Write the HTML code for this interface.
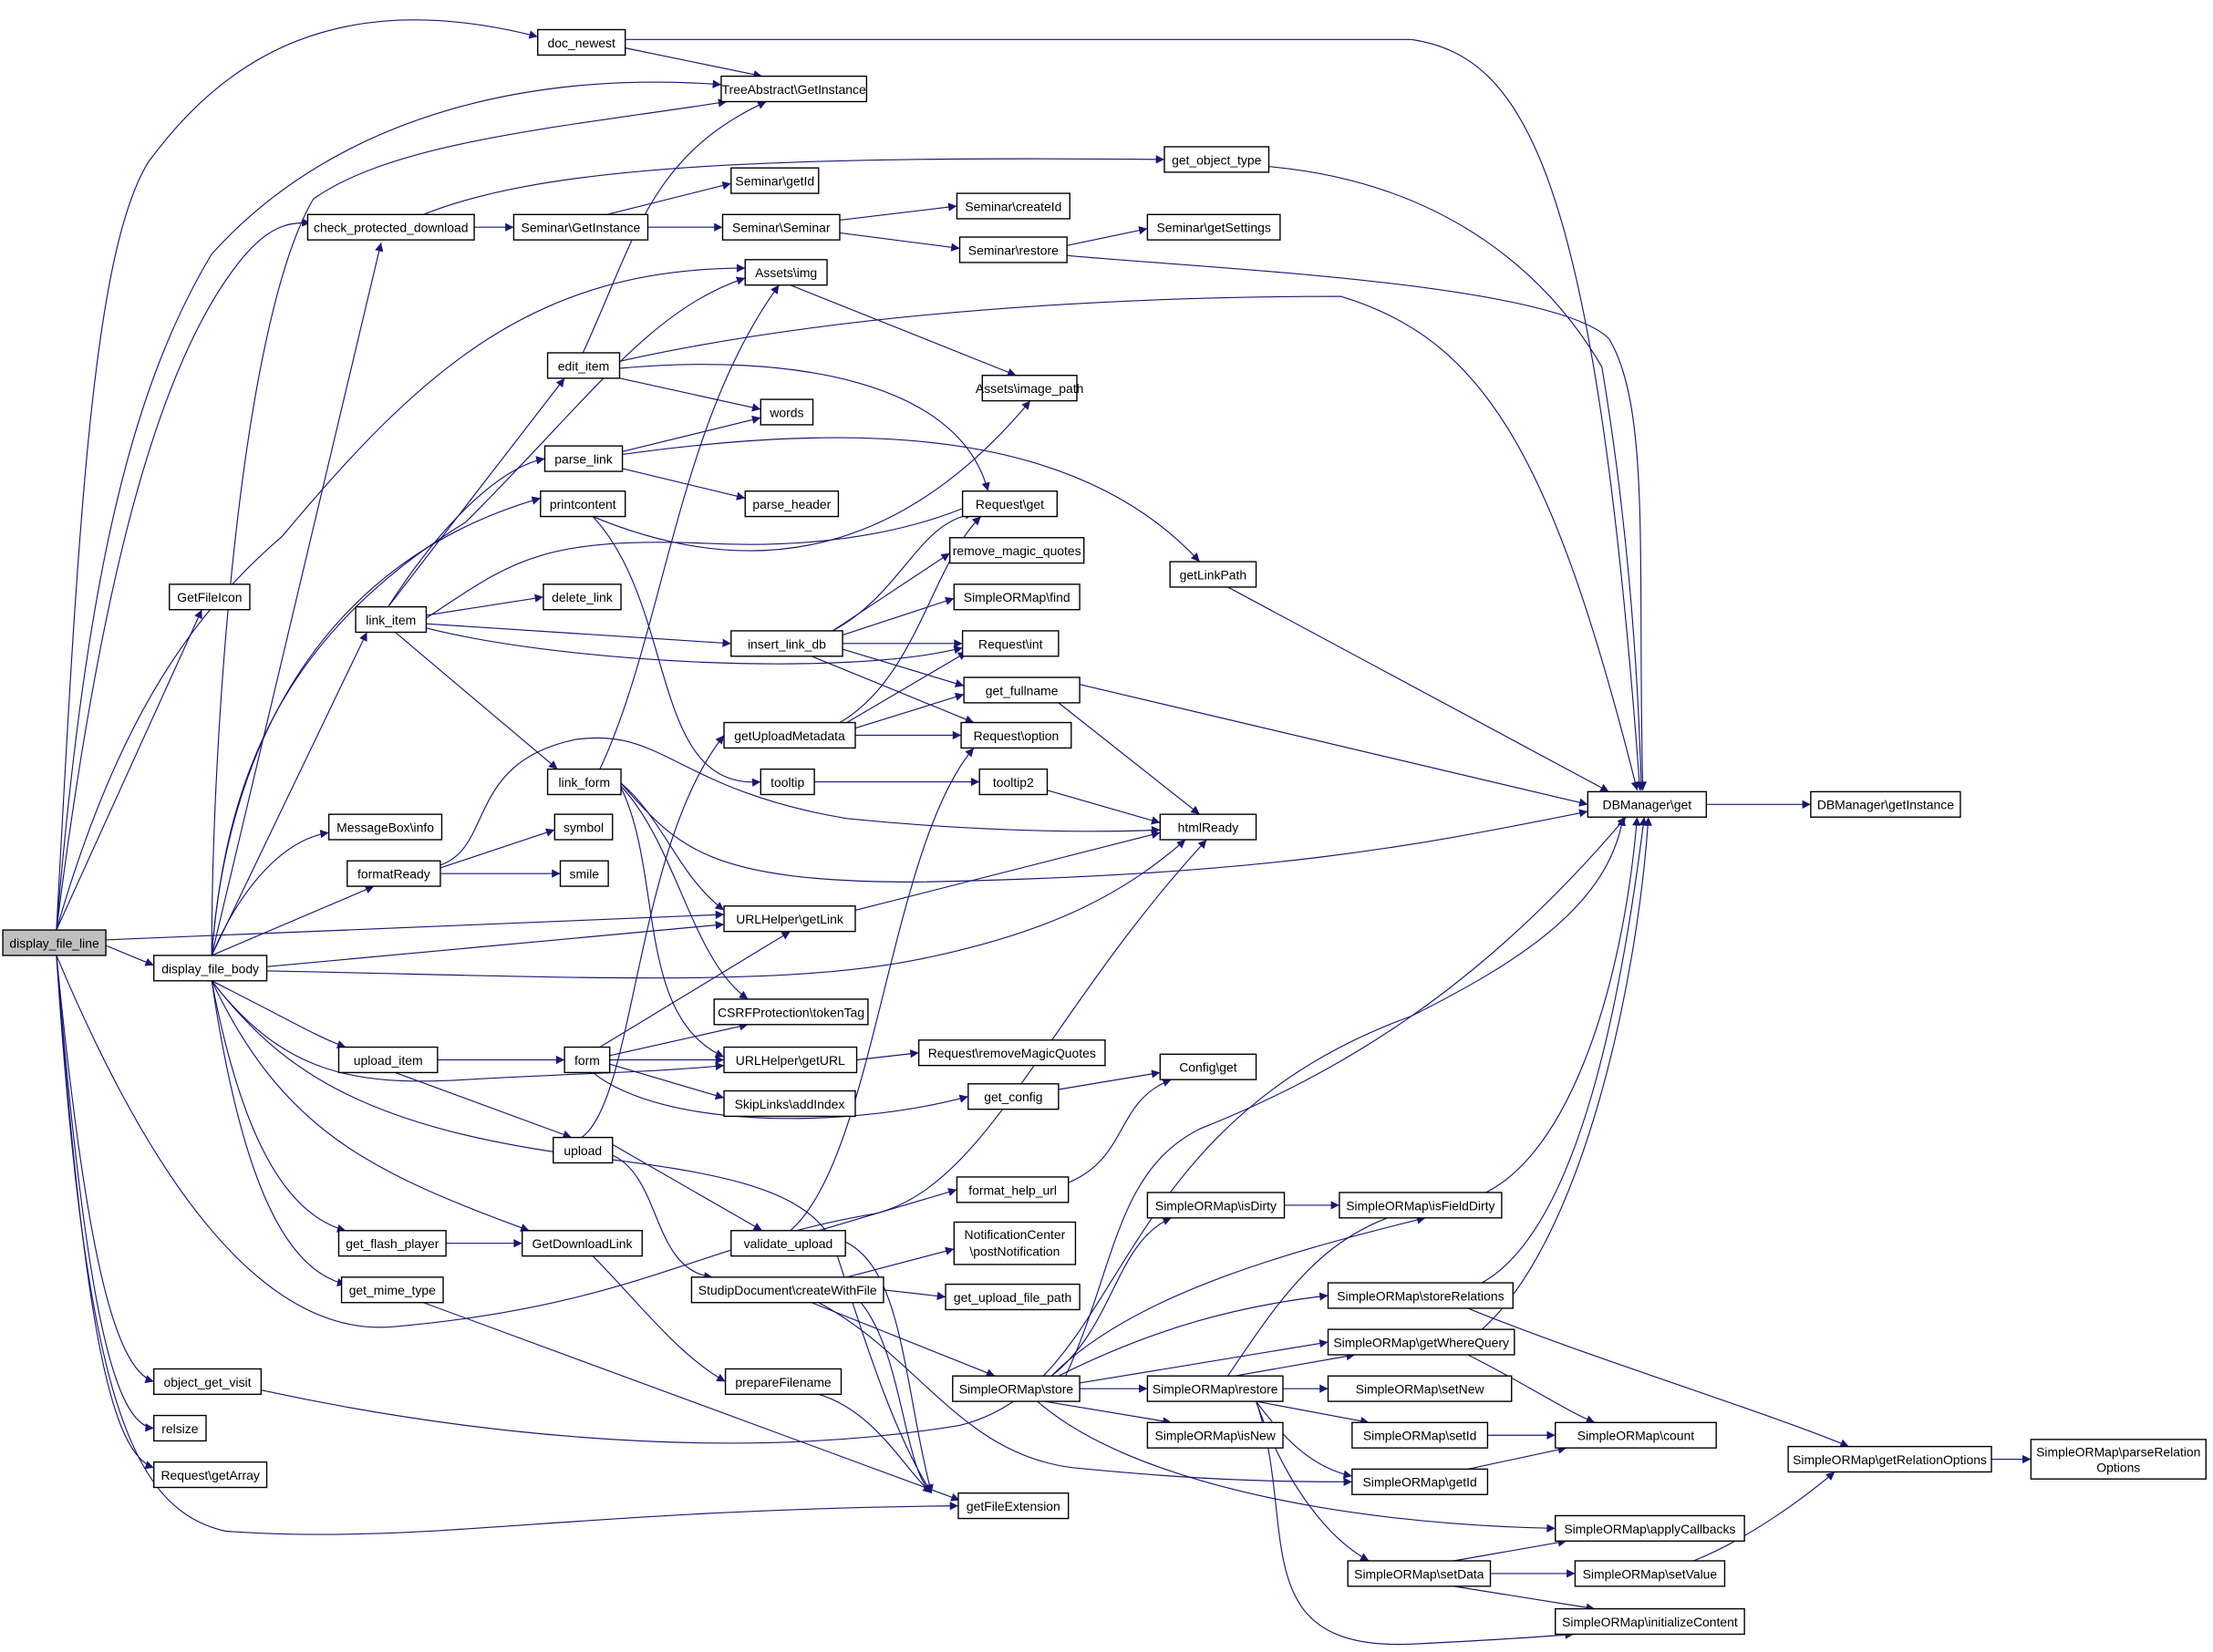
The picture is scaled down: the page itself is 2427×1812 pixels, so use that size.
<!DOCTYPE html>
<html><head><meta charset="utf-8"><style>
html,body{margin:0;padding:0;background:#fff;width:2427px;height:1812px;overflow:hidden}
svg{display:block}
text{font-family:"Liberation Sans",sans-serif;font-size:9px;fill:#000}
.e{fill:none;stroke:#191970;stroke-width:0.75}
.n{fill:#fff;stroke:#000;stroke-width:0.9}
</style></head><body>
<svg width="2427" height="1812" viewBox="0 0 1568 1170.6" preserveAspectRatio="none" xmlns="http://www.w3.org/2000/svg">
<defs><marker id="a" viewBox="0 0 10 10" refX="10" refY="5" markerWidth="9" markerHeight="6" markerUnits="userSpaceOnUse" orient="auto"><path d="M0,0L10,5L0,10z" fill="#191970"/></marker></defs>
<g class="e" marker-end="url(#a)">
<!-- display_file_line -->
<path d="M40,659 C55,380 65,180 105,115 C160,40 240,-10 381,26"/>
<path d="M40,659 C60,420 90,280 150,180 C240,80 380,50 511,60"/>
<path d="M40,659 C70,420 110,260 170,185 C190,160 205,157 220,158"/>
<path d="M40,659 C80,520 130,440 200,380 C300,260 380,190 528,190"/>
<path d="M40,659 L143,432"/>
<path d="M75,666 L513,648"/>
<path d="M75,670 L109,684"/>
<path d="M40,677 C100,820 180,950 280,940 C450,925 500,880 620,860 C700,840 740,720 855,595"/>
<path d="M40,677 C60,880 80,970 109,979"/>
<path d="M40,677 C60,920 80,1010 109,1012"/>
<path d="M40,677 C60,950 80,1030 109,1040"/>
<path d="M40,677 C60,980 90,1070 160,1085 C300,1095 400,1070 679,1067"/>
<!-- display_file_body -->
<path d="M150,677 L270,172"/>
<path d="M150,677 C150,520 170,230 222,141 C280,100 400,90 515,72"/>
<path d="M150,677 C160,550 200,450 330,370 C420,280 460,220 528,197"/>
<path d="M150,677 L260,448"/>
<path d="M150,677 C170,630 200,595 233,590"/>
<path d="M150,677 L265,628"/>
<path d="M150,677 C160,540 220,400 383,353"/>
<path d="M189,685 L513,655"/>
<path d="M189,688 C400,692 550,700 650,680 C750,660 800,630 840,595"/>
<path d="M150,695 C200,720 225,735 245,742"/>
<path d="M150,695 C200,760 250,770 330,765 C420,760 460,760 513,755"/>
<path d="M150,695 C200,800 260,830 375,872"/>
<path d="M150,695 C200,760 260,800 420,820 C500,830 570,840 590,880 C610,940 630,1010 660,1058"/>
<path d="M150,695 C170,800 200,860 245,872"/>
<path d="M150,695 C170,830 200,900 245,910"/>
<!-- top area -->
<path d="M443,34 L540,54"/>
<path d="M443,28 L1000,28 C1080,40 1130,120 1162,560"/>
<path d="M336,161 L364,161"/>
<path d="M300,152 C380,120 520,110 825,113"/>
<path d="M430,152 L518,130"/>
<path d="M459,161 L512,161"/>
<path d="M595,156 L678,146"/>
<path d="M595,165 L680,176"/>
<path d="M756,174 L813,162"/>
<path d="M756,181 C850,190 1100,200 1140,240 C1170,290 1160,400 1164,560"/>
<path d="M899,118 C1030,130 1100,200 1135,260 C1150,350 1160,450 1163,560"/>
<path d="M560,202 L720,266"/>
<path d="M413,250 C450,170 460,110 543,72"/>
<path d="M439,268 L539,290"/>
<path d="M439,261 C560,250 680,270 700,348"/>
<path d="M439,256 C600,220 800,210 950,210 C1050,240 1100,320 1160,560"/>
<path d="M441,320 L539,296"/>
<path d="M441,332 L528,353"/>
<path d="M441,322 C600,300 760,300 850,398"/>
<path d="M420,366 C550,420 650,380 730,284"/>
<path d="M420,366 C480,430 460,560 539,554"/>
<path d="M275,430 L400,268"/>
<path d="M275,430 C320,360 360,330 386,325"/>
<path d="M302,436 L385,423"/>
<path d="M302,438 C360,400 380,380 500,385 C600,390 660,370 690,357"/>
<path d="M302,442 L518,456"/>
<path d="M302,445 C400,470 600,480 682,459"/>
<path d="M280,448 L395,545"/>
<path d="M590,447 C640,420 650,370 690,364"/>
<path d="M590,447 L673,392"/>
<path d="M597,450 L676,424"/>
<path d="M597,456 L682,456"/>
<path d="M597,460 L683,486"/>
<path d="M575,465 L690,512"/>
<path d="M765,485 L1125,570"/>
<path d="M750,498 L850,577"/>
<path d="M595,512 C650,480 660,400 695,366"/>
<path d="M600,512 L685,462"/>
<path d="M606,516 L683,492"/>
<path d="M606,521 L681,521"/>
<path d="M577,554 L694,554"/>
<path d="M742,560 L822,583"/>
<path d="M425,545 C470,450 480,300 552,202"/>
<path d="M440,555 C470,580 480,620 513,645"/>
<path d="M440,557 C480,600 490,680 530,708"/>
<path d="M440,558 C470,620 450,720 513,749"/>
<path d="M440,555 C480,600 500,625 650,625 C900,620 1000,600 1125,575"/>
<path d="M312,615 L393,588"/>
<path d="M312,619 L397,619"/>
<path d="M312,613 C350,600 330,540 408,524 C470,515 480,560 600,580 C700,590 780,590 822,588"/>
<path d="M606,645 L822,590"/>
<path d="M425,742 L560,660"/>
<path d="M432,748 L530,726"/>
<path d="M432,751 L513,751"/>
<path d="M432,754 L513,778"/>
<path d="M420,760 C470,800 600,800 686,777"/>
<path d="M310,751 L400,751"/>
<path d="M280,760 L405,806"/>
<path d="M412,806 C450,780 450,600 513,521"/>
<path d="M434,811 L540,872"/>
<path d="M430,817 C470,830 460,900 505,905"/>
<path d="M580,872 L678,843"/>
<path d="M560,872 C620,820 630,600 690,530"/>
<path d="M599,880 C640,900 640,980 660,1058"/>
<path d="M607,751 L651,746"/>
<path d="M870,416 L1140,561"/>
<path d="M750,772 L822,760"/>
<path d="M757,838 C800,820 790,780 830,765"/>
<path d="M1209,570 L1283,570"/>
<!-- lower -->
<path d="M600,905 L676,885"/>
<path d="M626,914 L670,919"/>
<path d="M575,923 L705,975"/>
<path d="M580,923 C650,960 680,1030 760,1040 C860,1050 920,1050 958,1050"/>
<path d="M610,923 C640,960 640,1040 660,1058"/>
<path d="M580,988 C620,1000 640,1040 660,1058"/>
<path d="M420,890 C450,920 480,960 514,979"/>
<path d="M316,881 L370,881"/>
<path d="M300,923 L680,1063"/>
<path d="M185,985 C300,1010 500,1040 680,1010 C800,980 780,800 1000,720 C1080,680 1140,640 1150,579"/>
<path d="M765,984 L813,984"/>
<path d="M740,993 L830,1008"/>
<path d="M745,975 C790,940 790,880 830,863"/>
<path d="M745,975 C800,920 900,890 1010,863"/>
<path d="M750,975 C820,940 880,925 941,918"/>
<path d="M765,980 L941,951"/>
<path d="M735,993 C800,1050 950,1080 1102,1083"/>
<path d="M755,975 C790,900 790,830 850,800 C950,760 1050,700 1152,579"/>
<path d="M875,975 L960,960"/>
<path d="M909,984 L941,984"/>
<path d="M890,993 L970,1008"/>
<path d="M890,993 C910,1020 930,1040 958,1046"/>
<path d="M890,993 C910,1050 940,1090 970,1106"/>
<path d="M890,993 C920,1080 880,1170 1000,1165 C1060,1162 1090,1160 1115,1158"/>
<path d="M870,975 C920,900 950,860 1040,850 C1110,830 1150,700 1160,579"/>
<path d="M910,854 L949,854"/>
<path d="M1050,909 C1120,870 1150,700 1165,579"/>
<path d="M1040,927 C1120,960 1250,1000 1310,1025"/>
<path d="M1050,942 C1120,880 1160,700 1168,579"/>
<path d="M1040,960 C1080,980 1110,1000 1130,1008"/>
<path d="M1054,1017 L1102,1017"/>
<path d="M1040,1041 L1110,1026"/>
<path d="M1030,1106 L1110,1092"/>
<path d="M1056,1115 L1116,1115"/>
<path d="M1030,1124 L1130,1140"/>
<path d="M1200,1106 C1240,1090 1280,1060 1300,1043"/>
<path d="M1411,1034 L1439,1034"/>
</g>
<g>
<rect class="n" x="2" y="659" width="73" height="18" style="fill:#bfbfbf"/><text x="38.5" y="671.5" text-anchor="middle">display_file_line</text>
<rect class="n" x="381" y="21" width="62" height="18"/><text x="412" y="33.5" text-anchor="middle">doc_newest</text>
<rect class="n" x="511" y="54" width="103" height="18"/><text x="562.5" y="66.5" text-anchor="middle">TreeAbstract\GetInstance</text>
<rect class="n" x="825" y="104" width="74" height="18"/><text x="862" y="116.5" text-anchor="middle">get_object_type</text>
<rect class="n" x="518" y="119" width="62" height="18"/><text x="549" y="131.5" text-anchor="middle">Seminar\getId</text>
<rect class="n" x="218" y="152" width="118" height="18"/><text x="277" y="164.5" text-anchor="middle">check_protected_download</text>
<rect class="n" x="364" y="152" width="95" height="18"/><text x="411.5" y="164.5" text-anchor="middle">Seminar\GetInstance</text>
<rect class="n" x="512" y="152" width="83" height="18"/><text x="553.5" y="164.5" text-anchor="middle">Seminar\Seminar</text>
<rect class="n" x="678" y="137" width="80" height="18"/><text x="718" y="149.5" text-anchor="middle">Seminar\createId</text>
<rect class="n" x="680" y="168" width="76" height="18"/><text x="718" y="180.5" text-anchor="middle">Seminar\restore</text>
<rect class="n" x="813" y="152" width="94" height="18"/><text x="860" y="164.5" text-anchor="middle">Seminar\getSettings</text>
<rect class="n" x="528" y="184" width="58" height="18"/><text x="557" y="196.5" text-anchor="middle">Assets\img</text>
<rect class="n" x="388" y="250" width="51" height="18"/><text x="413.5" y="262.5" text-anchor="middle">edit_item</text>
<rect class="n" x="696" y="266" width="67" height="18"/><text x="729.5" y="278.5" text-anchor="middle">Assets\image_path</text>
<rect class="n" x="539" y="283" width="37" height="18"/><text x="557.5" y="295.5" text-anchor="middle">words</text>
<rect class="n" x="386" y="316" width="55" height="18"/><text x="413.5" y="328.5" text-anchor="middle">parse_link</text>
<rect class="n" x="528" y="348" width="66" height="18"/><text x="561" y="360.5" text-anchor="middle">parse_header</text>
<rect class="n" x="383" y="348" width="60" height="18"/><text x="413" y="360.5" text-anchor="middle">printcontent</text>
<rect class="n" x="682" y="348" width="67" height="18"/><text x="715.5" y="360.5" text-anchor="middle">Request\get</text>
<rect class="n" x="673" y="381" width="95" height="18"/><text x="720.5" y="393.5" text-anchor="middle">remove_magic_quotes</text>
<rect class="n" x="829" y="398" width="61" height="18"/><text x="859.5" y="410.5" text-anchor="middle">getLinkPath</text>
<rect class="n" x="120" y="414" width="57" height="18"/><text x="148.5" y="426.5" text-anchor="middle">GetFileIcon</text>
<rect class="n" x="385" y="414" width="55" height="18"/><text x="412.5" y="426.5" text-anchor="middle">delete_link</text>
<rect class="n" x="676" y="414" width="89" height="18"/><text x="720.5" y="426.5" text-anchor="middle">SimpleORMap\find</text>
<rect class="n" x="252" y="430" width="50" height="18"/><text x="277" y="442.5" text-anchor="middle">link_item</text>
<rect class="n" x="518" y="447" width="79" height="18"/><text x="557.5" y="459.5" text-anchor="middle">insert_link_db</text>
<rect class="n" x="682" y="447" width="68" height="18"/><text x="716" y="459.5" text-anchor="middle">Request\int</text>
<rect class="n" x="683" y="480" width="82" height="18"/><text x="724" y="492.5" text-anchor="middle">get_fullname</text>
<rect class="n" x="513" y="512" width="93" height="18"/><text x="559.5" y="524.5" text-anchor="middle">getUploadMetadata</text>
<rect class="n" x="681" y="512" width="78" height="18"/><text x="720" y="524.5" text-anchor="middle">Request\option</text>
<rect class="n" x="539" y="545" width="38" height="18"/><text x="558" y="557.5" text-anchor="middle">tooltip</text>
<rect class="n" x="694" y="545" width="48" height="18"/><text x="718" y="557.5" text-anchor="middle">tooltip2</text>
<rect class="n" x="388" y="545" width="52" height="18"/><text x="414" y="557.5" text-anchor="middle">link_form</text>
<rect class="n" x="1125" y="561" width="84" height="18"/><text x="1167" y="573.5" text-anchor="middle">DBManager\get</text>
<rect class="n" x="1283" y="561" width="106" height="18"/><text x="1336" y="573.5" text-anchor="middle">DBManager\getInstance</text>
<rect class="n" x="822" y="577" width="68" height="18"/><text x="856" y="589.5" text-anchor="middle">htmlReady</text>
<rect class="n" x="233" y="577" width="80" height="18"/><text x="273" y="589.5" text-anchor="middle">MessageBox\info</text>
<rect class="n" x="393" y="577" width="41" height="18"/><text x="413.5" y="589.5" text-anchor="middle">symbol</text>
<rect class="n" x="246" y="610" width="66" height="18"/><text x="279" y="622.5" text-anchor="middle">formatReady</text>
<rect class="n" x="397" y="610" width="34" height="18"/><text x="414" y="622.5" text-anchor="middle">smile</text>
<rect class="n" x="513" y="642" width="93" height="18"/><text x="559.5" y="654.5" text-anchor="middle">URLHelper\getLink</text>
<rect class="n" x="109" y="677" width="80" height="18"/><text x="149" y="689.5" text-anchor="middle">display_file_body</text>
<rect class="n" x="506" y="708" width="109" height="18"/><text x="560.5" y="720.5" text-anchor="middle">CSRFProtection\tokenTag</text>
<rect class="n" x="240" y="742" width="70" height="18"/><text x="275" y="754.5" text-anchor="middle">upload_item</text>
<rect class="n" x="400" y="742" width="32" height="18"/><text x="416" y="754.5" text-anchor="middle">form</text>
<rect class="n" x="513" y="742" width="94" height="18"/><text x="560" y="754.5" text-anchor="middle">URLHelper\getURL</text>
<rect class="n" x="651" y="737" width="132" height="18"/><text x="717" y="749.5" text-anchor="middle">Request\removeMagicQuotes</text>
<rect class="n" x="513" y="773" width="93" height="18"/><text x="559.5" y="785.5" text-anchor="middle">SkipLinks\addIndex</text>
<rect class="n" x="822" y="747" width="68" height="18"/><text x="856" y="759.5" text-anchor="middle">Config\get</text>
<rect class="n" x="686" y="768" width="64" height="18"/><text x="718" y="780.5" text-anchor="middle">get_config</text>
<rect class="n" x="392" y="806" width="42" height="18"/><text x="413" y="818.5" text-anchor="middle">upload</text>
<rect class="n" x="678" y="834" width="79" height="18"/><text x="717.5" y="846.5" text-anchor="middle">format_help_url</text>
<rect class="n" x="813" y="845" width="97" height="18"/><text x="861.5" y="857.5" text-anchor="middle">SimpleORMap\isDirty</text>
<rect class="n" x="949" y="845" width="115" height="18"/><text x="1006.5" y="857.5" text-anchor="middle">SimpleORMap\isFieldDirty</text>
<rect class="n" x="676" y="866" width="86" height="30"/><text x="719" y="878" text-anchor="middle">NotificationCenter</text><text x="719" y="890" text-anchor="middle">\postNotification</text>
<rect class="n" x="240" y="872" width="76" height="18"/><text x="278" y="884.5" text-anchor="middle">get_flash_player</text>
<rect class="n" x="370" y="872" width="85" height="18"/><text x="412.5" y="884.5" text-anchor="middle">GetDownloadLink</text>
<rect class="n" x="518" y="872" width="81" height="18"/><text x="558.5" y="884.5" text-anchor="middle">validate_upload</text>
<rect class="n" x="242" y="905" width="72" height="18"/><text x="278" y="917.5" text-anchor="middle">get_mime_type</text>
<rect class="n" x="490" y="905" width="136" height="18"/><text x="558" y="917.5" text-anchor="middle">StudipDocument\createWithFile</text>
<rect class="n" x="670" y="910" width="95" height="18"/><text x="717.5" y="922.5" text-anchor="middle">get_upload_file_path</text>
<rect class="n" x="941" y="909" width="131" height="18"/><text x="1006.5" y="921.5" text-anchor="middle">SimpleORMap\storeRelations</text>
<rect class="n" x="941" y="942" width="132" height="18"/><text x="1007" y="954.5" text-anchor="middle">SimpleORMap\getWhereQuery</text>
<rect class="n" x="109" y="970" width="76" height="18"/><text x="147" y="982.5" text-anchor="middle">object_get_visit</text>
<rect class="n" x="514" y="970" width="82" height="18"/><text x="555" y="982.5" text-anchor="middle">prepareFilename</text>
<rect class="n" x="675" y="975" width="90" height="18"/><text x="720" y="987.5" text-anchor="middle">SimpleORMap\store</text>
<rect class="n" x="813" y="975" width="96" height="18"/><text x="861" y="987.5" text-anchor="middle">SimpleORMap\restore</text>
<rect class="n" x="941" y="975" width="130" height="18"/><text x="1006" y="987.5" text-anchor="middle">SimpleORMap\setNew</text>
<rect class="n" x="109" y="1003" width="37" height="18"/><text x="127.5" y="1015.5" text-anchor="middle">relsize</text>
<rect class="n" x="813" y="1008" width="96" height="18"/><text x="861" y="1020.5" text-anchor="middle">SimpleORMap\isNew</text>
<rect class="n" x="958" y="1008" width="96" height="18"/><text x="1006" y="1020.5" text-anchor="middle">SimpleORMap\setId</text>
<rect class="n" x="1102" y="1008" width="114" height="18"/><text x="1159" y="1020.5" text-anchor="middle">SimpleORMap\count</text>
<rect class="n" x="1267" y="1025" width="144" height="18"/><text x="1339" y="1037.5" text-anchor="middle">SimpleORMap\getRelationOptions</text>
<rect class="n" x="1439" y="1020" width="124" height="28"/><text x="1501" y="1032" text-anchor="middle">SimpleORMap\parseRelation</text><text x="1501" y="1043" text-anchor="middle">Options</text>
<rect class="n" x="109" y="1036" width="80" height="18"/><text x="149" y="1048.5" text-anchor="middle">Request\getArray</text>
<rect class="n" x="958" y="1041" width="96" height="18"/><text x="1006" y="1053.5" text-anchor="middle">SimpleORMap\getId</text>
<rect class="n" x="679" y="1058" width="78" height="18"/><text x="718" y="1070.5" text-anchor="middle">getFileExtension</text>
<rect class="n" x="1102" y="1074" width="134" height="18"/><text x="1169" y="1086.5" text-anchor="middle">SimpleORMap\applyCallbacks</text>
<rect class="n" x="955" y="1106" width="101" height="18"/><text x="1005.5" y="1118.5" text-anchor="middle">SimpleORMap\setData</text>
<rect class="n" x="1116" y="1106" width="106" height="18"/><text x="1169" y="1118.5" text-anchor="middle">SimpleORMap\setValue</text>
<rect class="n" x="1102" y="1140" width="134" height="18"/><text x="1169" y="1152.5" text-anchor="middle">SimpleORMap\initializeContent</text>
</g>
</svg>
</body></html>
